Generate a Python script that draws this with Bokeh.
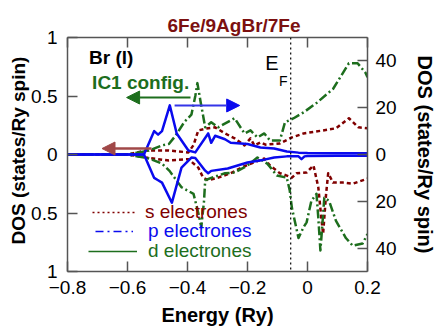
from bokeh.plotting import figure
from bokeh.models import (Range1d, LinearAxis, FixedTicker, Span, Label, Arrow,
                          NormalHead, Legend, LegendItem, ColumnDataSource,
                          CustomJSTickFormatter, Title)
from bokeh.embed import file_html
from bokeh.resources import INLINE

# ---------------- data (DOS, states/Ry spin; spin-down negative) ----------------
s_up_e = [-0.8, -0.6, -0.538, -0.462, -0.397, -0.380, -0.364, -0.341, -0.308, -0.275,
          -0.243, -0.21, -0.19, -0.177, -0.157, -0.14, -0.092, -0.052, -0.013, 0.052,
          0.095, 0.138, 0.170, 0.2]
s_up = [0, 0, 1.7, 1.7, 0.9, 4.0, 10.3, 11.0, 11.6, 9.0, 6.9, 3.9, 6.9, 3.9, 5.2, 4.2,
        4.7, 7.3, 9.0, 10.3, 11.2, 15.5, 11.6, 11.2]
s_dn_e = [-0.8, -0.6, -0.538, -0.462, -0.397, -0.364, -0.348, -0.331, -0.298, -0.256,
          -0.21, -0.144, -0.125, -0.092, -0.069, -0.052, -0.036, -0.003, 0.020, 0.036,
          0.046, 0.052, 0.062, 0.069, 0.085, 0.118, 0.151, 0.2]
s_dn = [0, 0, -1.3, -2.6, -2.0, -5.6, -9.9, -11.0, -9.9, -8.0, -5.0, -1.7, -4.7, -8.0,
        -9.0, -9.9, -8.0, -7.7, -4.7, -14.0, -27.0, -34.0, -16.8, -8.0, -12.0, -12.0,
        -12.5, -10.3]

p_up_e = [-0.8, -0.55, -0.544, -0.511, -0.498, -0.485, -0.459, -0.436, -0.397, -0.374,
          -0.331, -0.321, -0.308, -0.275, -0.256, -0.200, -0.157, -0.111, -0.069, -0.03,
          0.0, 0.1, 0.2]
p_up = [0, 0, 0.3, 10.0, 8.5, 10.0, 21.0, 9.0, 1.7, 0.9, 9.0, 5.0, 8.0, 6.5, 5.0, 4.5,
        3.0, 2.6, 1.3, 0.8, 0.6, 0.5, 0.5]
p_dn_e = [-0.8, -0.55, -0.544, -0.511, -0.498, -0.485, -0.452, -0.420, -0.387, -0.374,
          -0.341, -0.331, -0.321, -0.266, -0.200, -0.144, -0.111, -0.069, -0.03, -0.02,
          -0.01, 0.0, 0.1, 0.2]
p_dn = [0, 0, -0.3, -10.0, -11.0, -12.0, -20.6, -5.6, -1.3, -1.5, -6.9, -8.0, -7.0, -6.0,
        -3.4, -2.2, -1.3, -0.8, -0.8, -2.0, -0.8, -0.6, -0.5, -0.5]

d_up_e = [-0.8, -0.6, -0.528, -0.485, -0.462, -0.44, -0.41, -0.387, -0.374, -0.367,
          -0.357, -0.341, -0.321, -0.298, -0.243, -0.210, -0.19, -0.167, -0.144, -0.125,
          -0.092, -0.075, -0.046, -0.013, 0.030, 0.085, 0.138, 0.167, 0.193, 0.2]
d_up = [0, 0, 1.7, 3.9, 4.5, 8.0, 14.0, 17.0, 25.0, 30.5, 23.0, 11.6, 13.8, 11.6, 15.5,
        9.0, 10.3, 7.3, 9.0, 6.0, 6.0, 13.8, 15.5, 18.0, 22.0, 28.0, 39.0, 39.0, 35.0, 33.0]
d_dn_e = [-0.8, -0.6, -0.528, -0.485, -0.46, -0.420, -0.380, -0.364, -0.354, -0.345,
          -0.341, -0.321, -0.275, -0.243, -0.2, -0.167, -0.134, -0.102, -0.069, -0.059,
          -0.052, -0.030, -0.013, -0.003, 0.013, 0.030, 0.036, 0.043, 0.049, 0.056,
          0.072, 0.095, 0.128, 0.151, 0.184, 0.2]
d_dn = [0, 0, -1.7, -3.9, -7.0, -14.0, -16.8, -25.0, -31.0, -20.0, -11.0, -10.0, -8.0,
        -7.7, -4.7, -1.3, -3.9, -9.0, -9.9, -15.5, -22.8, -35.7, -31.0, -29.0, -19.8,
        -16.8, -27.0, -41.0, -31.0, -18.5, -19.8, -28.4, -35.7, -39.0, -38.0, -34.0]

x_ticks = [-0.8, -0.6, -0.4, -0.2, 0, 0.2]
left_ticks = [-1, -0.5, 0, 0.5, 1]
left_tick_labels = ["1", "0.5", "0", "0.5", "1"]
right_ticks = [-40, -20, 0, 20, 40]
right_tick_labels = ["40", "20", "0", "20", "40"]
e_fermi = -0.056

title_text = "6Fe/9AgBr/7Fe"
y_label = "DOS (states/Ry spin)"
FONT = "Liberation Sans"
RED = "#800000"
BLUE = "#0a0aee"
GREEN = "#1d6e1d"
AX = "#555555"

p = figure(width=438, height=329, output_backend="svg", toolbar_location=None,
           x_range=Range1d(-0.8, 0.2), y_range=Range1d(-1, 1),
           min_border_left=67, min_border_right=66, min_border_top=37,
           min_border_bottom=58, x_axis_location=None, y_axis_location=None)
p.extra_y_ranges = {"dos": Range1d(-50, 50)}
p.xgrid.visible = False
p.ygrid.visible = False
p.outline_line_color = None
p.background_fill_color = "white"
p.border_fill_color = "white"

p.title.text = title_text
p.title.text_font = FONT
p.title.text_font_size = "19px"
p.title.text_font_style = "bold"
p.title.text_color = "#7b1010"
p.title.align = "left"
p.title.offset = 100
p.title.standoff = 4


def style_axis(ax):
    ax.axis_line_color = AX
    ax.axis_line_width = 1.5
    ax.major_tick_line_color = AX
    ax.major_tick_line_width = 1.5
    ax.major_tick_in = 10
    ax.major_tick_out = 0
    ax.minor_tick_line_color = None
    ax.major_label_text_font = FONT
    ax.major_label_text_font_size = "19px"
    ax.major_label_text_color = "black"
    ax.axis_label_text_font = FONT
    ax.axis_label_text_font_size = "20px"
    ax.axis_label_text_font_style = "bold"
    ax.axis_label_text_color = "black"


xb = LinearAxis(ticker=FixedTicker(ticks=x_ticks), axis_label="Energy (Ry)",
                major_label_overrides={0: "0"})
style_axis(xb)
xb.major_label_standoff = 9
xb.axis_label_standoff = 7
p.add_layout(xb, "below")

xt = LinearAxis(ticker=FixedTicker(ticks=x_ticks),
                formatter=CustomJSTickFormatter(code="return ''"))
style_axis(xt)
xt.major_label_standoff = 0
p.add_layout(xt, "above")

yl = LinearAxis(ticker=FixedTicker(ticks=left_ticks),
                major_label_overrides={t: l for t, l in zip(left_ticks, left_tick_labels)})
style_axis(yl)
yl.major_label_standoff = 10
p.add_layout(yl, "left")

# left axis title as a Title in the left panel (starts near the frame bottom)
p.add_layout(Title(text=y_label, align="left", offset=27, text_font=FONT,
                   text_font_size="19px", text_font_style="bold", text_color="black",
                   standoff=0), "left")

yr = LinearAxis(y_range_name="dos", ticker=FixedTicker(ticks=right_ticks),
                axis_label=y_label,
                major_label_overrides={t: l for t, l in zip(right_ticks, right_tick_labels)})
style_axis(yr)
yr.major_label_standoff = 8
yr.axis_label_standoff = 14
p.add_layout(yr, "right")

# ---------------- curves ----------------
kw = dict(y_range_name="dos", line_join="round")
p.line(s_up_e, s_up, line_color=RED, line_width=2.5, line_dash="4 3", **kw)
p.line(s_dn_e, s_dn, line_color=RED, line_width=2.5, line_dash="4 3", **kw)
p.line(d_up_e, d_up, line_color=GREEN, line_width=2.5, line_dash="9 3 2 3", **kw)
p.line(d_dn_e, d_dn, line_color=GREEN, line_width=2.5, line_dash="9 3 2 3", **kw)
p.line(p_up_e, p_up, line_color=BLUE, line_width=2.5, **kw)
p.line(p_dn_e, p_dn, line_color=BLUE, line_width=2.5, **kw)

p.add_layout(Span(location=e_fermi, dimension="height", line_color="black",
                  line_width=1.2, line_dash="2 3"))

# ---------------- legend (separate legends for coloured labels) ----------------
nan = float("nan")
proxy = ColumnDataSource(data=dict(x=[nan], y=[nan]))
r_s = p.line("x", "y", source=proxy, line_color=RED, line_width=1.5, line_dash="2 3")
r_p = p.line("x", "y", source=proxy, line_color=BLUE, line_width=1.5, line_dash="8 4 2 4")
r_d = p.line("x", "y", source=proxy, line_color=GREEN, line_width=1.5)

for lab, r, col, loc, gw, so in [("s electrones", r_s, RED, (25, 48), 45, 8),
                                 ("p electrones", r_p, BLUE, (28, 29), 38, 15),
                                 ("d electrones", r_d, GREEN, (21, 9), 49, 11)]:
    lg = Legend(items=[LegendItem(label=lab, renderers=[r])], location=loc,
                label_text_font=FONT, label_text_font_size="19px",
                label_text_color=col, glyph_width=gw, glyph_height=20,
                label_height=20, label_standoff=so, padding=0, margin=0,
                spacing=0, border_line_alpha=0, background_fill_alpha=0)
    p.add_layout(lg, "center")

# ---------------- annotations ----------------
bot = dict(text_font=FONT, text_baseline="bottom")
p.add_layout(Label(x=-0.728, y=0.74, text="Br (l)", text_font_size="19px",
                   text_font_style="bold", text_color="black", **bot))
p.add_layout(Label(x=-0.718, y=0.525, text="IC1 config.", text_font_size="19px",
                   text_font_style="bold", text_color=GREEN, **bot))
p.add_layout(Label(x=-0.141, y=0.684, text="E", text_font_size="20px",
                   text_color="black", **bot))
p.add_layout(Label(x=-0.095, y=0.564, text="F", text_font_size="14px",
                   text_color="black", **bot))

p.add_layout(Arrow(x_start=-0.39, y_start=0.487, x_end=-0.603, y_end=0.487,
                   line_color=GREEN, line_width=2,
                   end=NormalHead(size=13, fill_color=GREEN, line_color=GREEN)))
p.add_layout(Arrow(x_start=-0.443, y_start=0.419, x_end=-0.226, y_end=0.419,
                   line_color="#3535e8", line_width=2,
                   end=NormalHead(size=13, fill_color=BLUE, line_color=BLUE)))
p.add_layout(Arrow(x_start=-0.52, y_start=0.051, x_end=-0.685, y_end=0.051,
                   line_color="#a04848", line_width=2.5,
                   end=NormalHead(size=13, fill_color="#a04848", line_color="#a04848")))

open("out.html", "w").write(file_html(p, INLINE))
